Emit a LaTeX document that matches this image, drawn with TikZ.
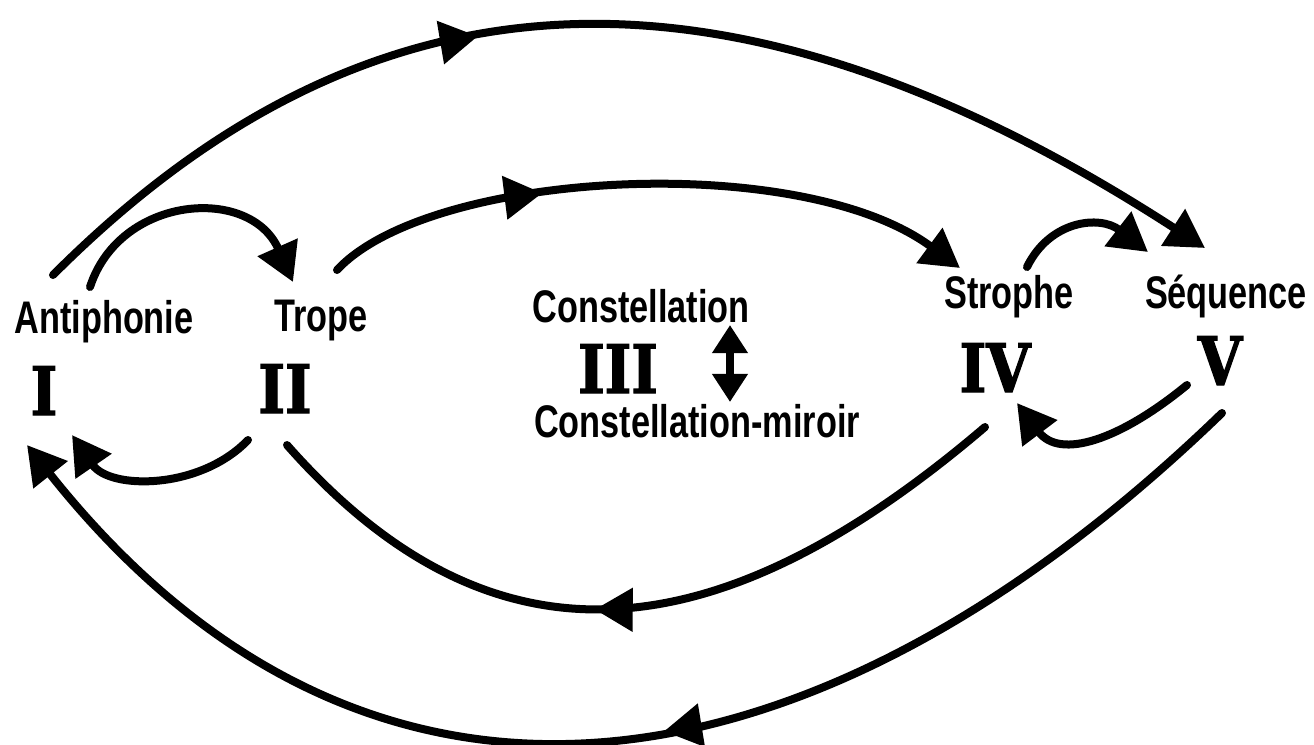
\documentclass[tikz,border=0pt]{standalone}
\usepackage{fontspec}
\usetikzlibrary{arrows.meta,calc,decorations.markings}
\newfontfamily\labfont{Liberation Sans}[FakeStretch=0.75]
\newfontfamily\numfont{DejaVu Serif}[FakeStretch=0.85,FakeBold=2]
\begin{document}
\begin{tikzpicture}[x=0.01cm,y=-0.01cm,
 lab/.style={font=\labfont\bfseries\fontsize{13}{15}\selectfont, anchor=base, inner sep=0pt},
 num/.style={font=\numfont\bfseries\fontsize{19}{23}\selectfont, anchor=base, inner sep=0pt},
 conn/.style={line width=0.08cm, line cap=round, -{Triangle[length=0.38cm,width=0.42cm]}},
 plain/.style={line width=0.08cm, line cap=round},
 midarrow/.style={postaction={decorate},decoration={markings,mark=at position #1 with {\arrow{Triangle[length=0.38cm,width=0.42cm]}}}}]
\path[use as bounding box] (0,0) rectangle (1314,744);
\node[lab] (ant) at (104,333) {Antiphonie};
\node[lab] (tro) at (321,331) {Trope};
\node[lab] (con) at (641,322) {Constellation};
\node[lab] (mir) at (697,437) {Constellation-miroir};
\node[lab] (str) at (1009,308) {Strophe};
\node[lab] (seq) at (1226,308) {Séquence};
\node[num] (n1) at (44,415) {I};
\node[num] (n2) at (285,413) {II};
\node[num] (n3) at (618,393) {III};
\node[num] (n4) at (995,392) {IV};
\node[num] (n5) at (1220,385) {V};
\draw[conn,midarrow=0.39] ($(ant.base)+(-51,-58)$) .. controls (333,-5) and (680,-92) .. ($(seq.base)+(-21,-60)$);
\draw[conn] ($(ant.base)+(-14,-46)$) .. controls (120,195) and (250,185) .. ($(tro.base)+(-28,-49)$);
\draw[conn,midarrow=0.34] ($(tro.base)+(16,-61)$) .. controls (430,170) and (800,150) .. ($(str.base)+(-49,-40)$);
\draw[conn] ($(str.base)+(18,-41)$) .. controls (1050,220) and (1100,215) .. ($(seq.base)+(-78,-56)$);
\draw[conn] ($(n5.base)+(-33,0)$) .. controls (1120,440) and (1060,460) .. ($(n4.base)+(22,11)$);
\draw[conn] ($(n2.base)+(-37,27)$) .. controls (200,490) and (110,490) .. ($(n1.base)+(28,20)$);
\draw[plain,midarrow=0.55] ($(n4.base)+(-10,35)$) .. controls (712,660) and (489,674) .. ($(n2.base)+(2,32)$);
\draw[conn,midarrow=0.47] ($(n5.base)+(2,28)$) .. controls (819,803) and (372,880) .. ($(n1.base)+(-17,30)$);
\coordinate (dtop) at ($(n3.base)+(112,-68)$);
\coordinate (dbot) at ($(n3.base)+(112,9)$);
\draw[line width=0.08cm, {Triangle[length=0.28cm,width=0.34cm]}-{Triangle[length=0.28cm,width=0.34cm]}] (dtop) -- (dbot);
\end{tikzpicture}
\end{document}
